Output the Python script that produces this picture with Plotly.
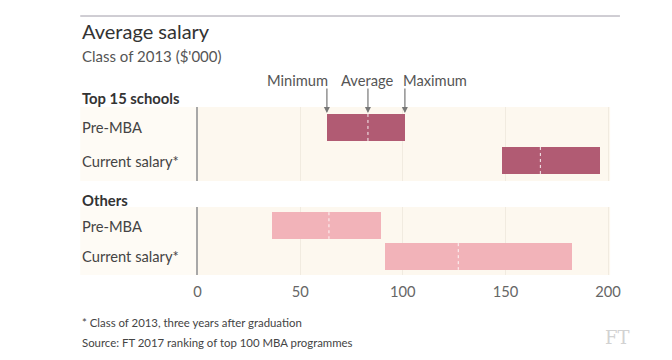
import plotly.graph_objects as go

# ---- data (in $'000) ----
categories = ["Pre-MBA", "Current salary*"]
group_names = ["Top 15 schools", "Others"]
top_min = [63, 148]
top_avg = [83, 167]
top_max = [101, 196]
oth_min = [36, 91]
oth_avg = [64, 127]
oth_max = [89, 182]
x_ticks = [0, 50, 100, 150, 200]
legend_labels = ["Minimum", "Average", "Maximum"]

W, H = 672, 360
FONT = "Lato"
TOP_COL = "#b15b73"
OTH_COL = "#f2b3b9"
PANEL = "#fdf8ef"
PANEL_LEFT = "#fefbf5"
GRID = "#f1ebe0"


def px(x):
    return x / W


def py(y):
    return 1 - y / H


fig = go.Figure()

bar_w = [0.82, 0.86]
groups = [
    (top_min, top_avg, top_max, TOP_COL, "x", "y"),
    (oth_min, oth_avg, oth_max, OTH_COL, "x2", "y2"),
]
shapes = []
for gi, (mn, av, mx, col, xa, ya) in enumerate(groups):
    fig.add_trace(go.Bar(
        y=categories,
        x=[b - a for a, b in zip(mn, mx)],
        base=mn,
        orientation="h",
        width=bar_w[gi],
        marker=dict(color=col, line=dict(width=0)),
        xaxis=xa, yaxis=ya,
        hoverinfo="skip",
        showlegend=False,
    ))
    for i, a in enumerate(av):
        shapes.append(dict(
            type="line", xref=xa, yref=ya,
            x0=a, x1=a, y0=i - bar_w[gi] / 2, y1=i + bar_w[gi] / 2,
            line=dict(color="rgba(255,255,255,0.9)", width=1, dash="dot"),
            layer="above",
        ))

# top rule
shapes.append(dict(type="line", xref="paper", yref="paper",
                   x0=px(78), x1=px(630), y0=py(16), y1=py(16),
                   line=dict(color="#a09ca8", width=1)))
# faint band behind the row labels
for top, bot in [(107, 181), (207, 275)]:
    shapes.append(dict(type="rect", xref="paper", yref="paper", layer="below",
                       x0=px(78), x1=px(198), y0=py(bot), y1=py(top),
                       line=dict(width=0), fillcolor=PANEL_LEFT))

xdom = [px(198), px(620)]
xcommon = dict(range=[0, 201], tickvals=x_ticks, showgrid=True,
               gridcolor=GRID, gridwidth=1, zeroline=False, showline=False)
ycommon = dict(type="category", categoryarray=categories, showticklabels=False,
               showgrid=False, zeroline=False, showline=True,
               linecolor="#a8a8a8", linewidth=1.5, ticks="")

fig.update_layout(
    width=W, height=H,
    margin=dict(l=0, r=0, t=0, b=0),
    paper_bgcolor="white",
    plot_bgcolor=PANEL,
    bargap=0,
    xaxis=dict(domain=xdom, anchor="y", showticklabels=False, **xcommon),
    xaxis2=dict(domain=xdom, anchor="y2", showticklabels=True,
                tickfont=dict(family=FONT, size=14.7, color="#666"),
                ticks="outside", ticklen=3, tickcolor="rgba(0,0,0,0)",
                **xcommon),
    yaxis=dict(domain=[py(181), py(107)], anchor="x",
               range=[1.62, -0.62], **ycommon),
    yaxis2=dict(domain=[py(275), py(207)], anchor="x2",
                range=[1.6, -0.6], **ycommon),
    shapes=shapes,
)

ann = []
ann.append(dict(text="Average salary", x=px(78), y=py(31), xref="paper", yref="paper",
                xanchor="left", yanchor="middle", showarrow=False,
                font=dict(family=FONT, size=20, color="#333")))
ann.append(dict(text="Class of 2013 ($'000)", x=px(78), y=py(56), xref="paper", yref="paper",
                xanchor="left", yanchor="middle", showarrow=False,
                font=dict(family=FONT, size=15, color="#555")))
ann.append(dict(text="<b>Top 15 schools</b>", x=px(78), y=py(98), xref="paper", yref="paper",
                xanchor="left", yanchor="middle", showarrow=False,
                font=dict(family=FONT, size=14.8, color="#333")))
ann.append(dict(text="<b>Others</b>", x=px(78), y=py(200), xref="paper", yref="paper",
                xanchor="left", yanchor="middle", showarrow=False,
                font=dict(family=FONT, size=14.8, color="#333")))
for ya in ["y", "y2"]:
    for c in categories:
        ann.append(dict(text=c, x=px(78), y=c, xref="paper", yref=ya,
                        xanchor="left", yanchor="middle", showarrow=False,
                        font=dict(family=FONT, size=14.7, color="#444")))
key_vals = [top_min[0], top_avg[0], top_max[0]]
anchors = [("right", 3), ("center", 0), ("left", -4)]
for lab, v, (xa, xs) in zip(legend_labels, key_vals, anchors):
    ann.append(dict(text="", x=v, y=py(113), xref="x", yref="paper",
                    showarrow=True, ax=0, ay=-26, arrowhead=2, arrowsize=1,
                    arrowwidth=1.2, arrowcolor="#777"))
    ann.append(dict(text=lab, x=v, y=py(80), xref="x", yref="paper",
                    xanchor=xa, xshift=xs, yanchor="middle", showarrow=False,
                    font=dict(family=FONT, size=14.7, color="#555")))
ann.append(dict(text="* Class of 2013, three years after graduation", x=px(78), y=py(322),
                xref="paper", yref="paper", xanchor="left", yanchor="middle",
                showarrow=False, font=dict(family=FONT, size=11.4, color="#444")))
ann.append(dict(text="Source: FT 2017 ranking of top 100 MBA programmes", x=px(78), y=py(342),
                xref="paper", yref="paper", xanchor="left", yanchor="middle",
                showarrow=False, font=dict(family=FONT, size=11.4, color="#444")))
ann.append(dict(text="FT", x=px(627), y=py(337), xref="paper", yref="paper",
                xanchor="center", yanchor="middle", showarrow=False,
                font=dict(family="DejaVu Serif", size=18, color="#d2d2d2")))
fig.update_layout(annotations=ann)

fig.write_html(
    "out.html",
    config={"displayModeBar": False},
    post_script="document.body.style.margin='0px';document.body.style.overflow='hidden';",
)
